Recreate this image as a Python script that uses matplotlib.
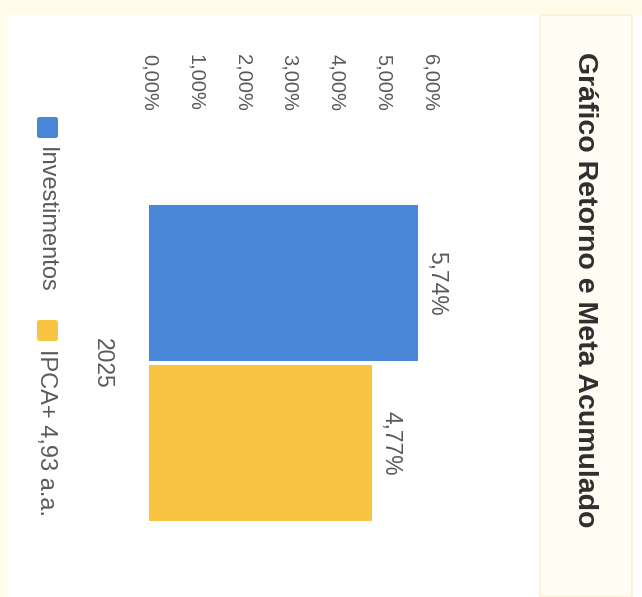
import matplotlib
matplotlib.use("Agg")
import matplotlib.pyplot as plt
from matplotlib.patches import Rectangle, FancyBboxPatch

plt.rcParams['font.family'] = ['Liberation Sans', 'DejaVu Sans']

# ---- data ----
title = "Gráfico Retorno e Meta Acumulado"
categories = ["2025"]
series_names = ["Investimentos", "IPCA+ 4,93 a.a."]
investimentos = [5.74]
ipca_meta = [4.77]
value_labels_inv = ["5,74%"]
value_labels_ipca = ["4,77%"]
tick_values = [0, 1, 2, 3, 4, 5, 6]
tick_labels = ["0,00%", "1,00%", "2,00%", "3,00%", "4,00%", "5,00%", "6,00%"]

colors = ["#4A87D9", "#F9C441"]
text_gray = "#5A5A5A"

W, H = 642, 597
fig = plt.figure(figsize=(W / 100, H / 100), dpi=100)
fig.patch.set_facecolor("white")


def fx(px):
    return px / W


def fy(py):
    return 1 - py / H


def fig_rect(x0, y0, x1, y1, **kw):
    fig.patches.append(Rectangle((fx(x0), fy(y1)), fx(x1) - fx(x0), fy(y0) - fy(y1),
                                 transform=fig.transFigure, **kw))


# page background strips and title panel
fig_rect(0, 0, W, 15, facecolor="#FFFCEB", edgecolor="none", zorder=0)
fig_rect(0, 0, 8, H, facecolor="#FFFCEB", edgecolor="none", zorder=0)
fig_rect(540, 15, 632, H, facecolor="#FFFDF3", edgecolor="#FAF2D4", linewidth=1.2, zorder=0)

# plot area: value axis runs left->right, categories top->bottom
ax = fig.add_axes([fx(149), fy(563), fx(430) - fx(149), fy(163) - fy(563)])
ax.set_facecolor("none")
ax.set_xlim(0, 6)
ax.set_ylim(0.5, -0.5)
for s in ax.spines.values():
    s.set_visible(False)

bar_h = 0.4
series = [investimentos, ipca_meta]
labels = [value_labels_inv, value_labels_ipca]
for i, (vals, labs) in enumerate(zip(series, labels)):
    for j, (v, lab) in enumerate(zip(vals, labs)):
        yc = j - 0.4 + bar_h / 2 + i * bar_h
        ax.barh(yc, v, height=bar_h - 0.008, color=colors[i], zorder=2)
        ax.annotate(lab, xy=(v, yc), xytext=(5, 0), textcoords="offset points",
                    rotation=-90, ha="left", va="center", fontsize=16.5,
                    color=text_gray, annotation_clip=False)

ax.xaxis.tick_top()
ax.set_xticks(tick_values)
ax.set_xticklabels(tick_labels, rotation=-90, fontsize=14.5, color=text_gray)
ax.tick_params(axis="x", length=0, pad=37.5)

ax.set_yticks(range(len(categories)))
ax.set_yticklabels(categories, rotation=-90, va="center", ha="right",
                   fontsize=16.5, color=text_gray)
ax.tick_params(axis="y", length=0, pad=25)

# legend
leg_items = [(117, 147), (320, 349)]
for (sq_top, txt_top), name, col in zip(leg_items, series_names, colors):
    fig.patches.append(FancyBboxPatch((fx(37), fy(sq_top + 21)), fx(21), 21 / H,
                                      boxstyle="round,pad=0,rounding_size=0.004",
                                      transform=fig.transFigure, facecolor=col,
                                      edgecolor="none"))
    fig.text(fx(46), fy(txt_top), name, rotation=-90, ha="center", va="top",
             fontsize=17, color=text_gray)

# title
fig.text(fx(585), fy(290), title, rotation=-90, ha="center", va="center",
         fontsize=20.5, fontweight="bold", color="#2E2E2E")

fig.savefig("out.png", dpi=100)
